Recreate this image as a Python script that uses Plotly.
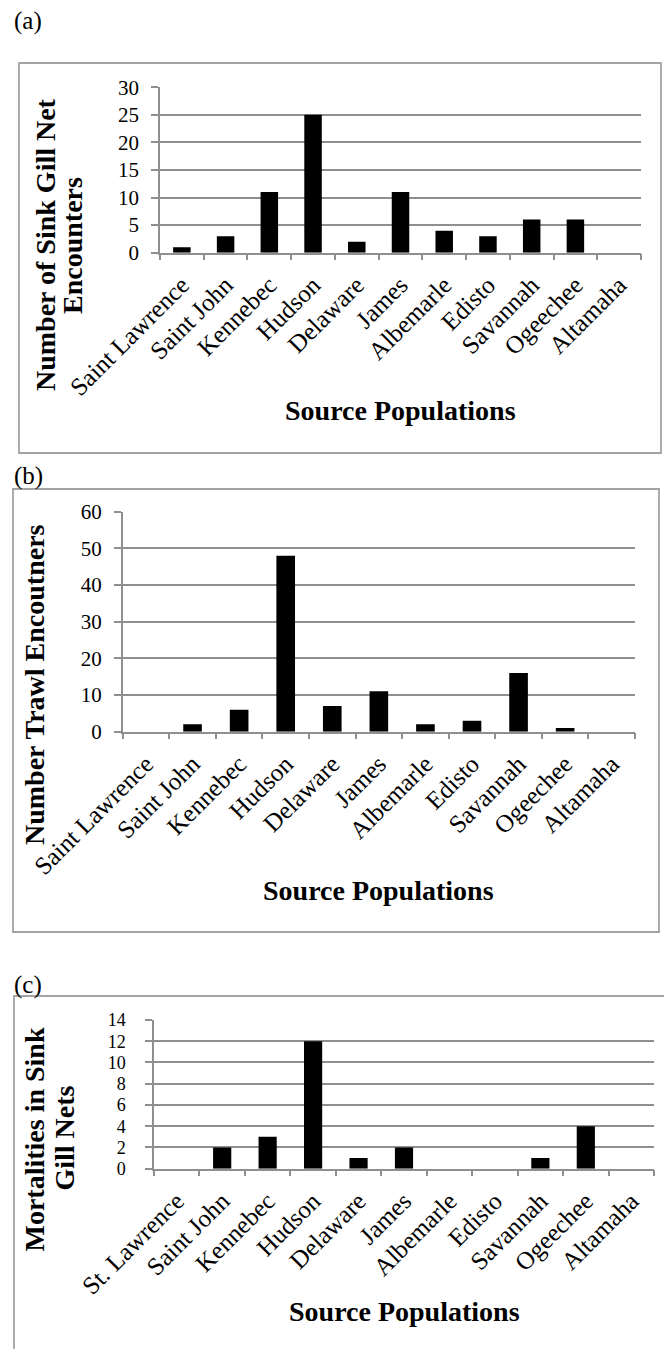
import plotly.graph_objects as go

W, H = 664, 1349

# Source populations (north to south)
populations = ["Saint Lawrence", "Saint John", "Kennebec", "Hudson", "Delaware",
               "James", "Albemarle", "Edisto", "Savannah", "Ogeechee", "Altamaha"]
populations_c = ["St. Lawrence"] + populations[1:]

gillnet_encounters = [1, 3, 11, 25, 2, 11, 4, 3, 6, 6, 0]
trawl_encounters = [0, 2, 6, 48, 7, 11, 2, 3, 16, 1, 0]
gillnet_mortalities = [0, 2, 3, 12, 1, 2, 0, 0, 1, 4, 0]

FONT = "Liberation Serif"
GRID = "#8f8f8f"
FRAME = "#a3a3a3"


def px(x):
    return x / W


def py(y):
    return 1 - y / H


# panel geometry in pixels: plot-area left, right, top, bottom
panels = [
    dict(cats=populations, vals=gillnet_encounters, box=(160, 641, 87.3, 252.7),
         ymax=30, dtick=5, ystand=8, ysize=21),
    dict(cats=populations, vals=trawl_encounters, box=(122.7, 635, 511.7, 731.7),
         ymax=60, dtick=10, ystand=8, ysize=21),
    dict(cats=populations_c, vals=gillnet_mortalities, box=(154, 654, 1020, 1168.7),
         ymax=14, dtick=2, ystand=16, ysize=18),
]

fig = go.Figure()
layout = dict(
    width=W, height=H, margin=dict(l=0, r=0, t=0, b=0, pad=0, autoexpand=False),
    paper_bgcolor="white", plot_bgcolor="white", showlegend=False,
    bargap=0.6, font=dict(family=FONT, color="black"),
)

for i, p in enumerate(panels, start=1):
    sfx = "" if i == 1 else str(i)
    x0, x1, y0, y1 = p["box"]
    fig.add_trace(go.Bar(x=p["cats"], y=p["vals"], marker=dict(color="black", line=dict(width=0)),
                         xaxis="x" + sfx, yaxis="y" + sfx, hoverinfo="skip"))
    layout["xaxis" + sfx] = dict(
        domain=[px(x0), px(x1)], anchor="y" + sfx, type="category",
        range=[-0.5, len(p["cats"]) - 0.5], tickangle=-45, automargin=False,
        tickfont=dict(family=FONT, size=25, color="black"), ticklabelstandoff=6,
        showline=True, linecolor=GRID, linewidth=1.5, showgrid=False, zeroline=False,
        ticks="outside", tickson="boundaries", ticklen=6, tickcolor=GRID, tickwidth=1.5,
    )
    layout["yaxis" + sfx] = dict(
        domain=[py(y1), py(y0)], anchor="x" + sfx, range=[0, p["ymax"]], dtick=p["dtick"],
        tickfont=dict(family=FONT, size=p["ysize"], color="black"), automargin=False,
        ticklabelstandoff=p["ystand"],
        showline=True, linecolor=GRID, linewidth=1.5, showgrid=True, gridcolor=GRID,
        gridwidth=1.5, zeroline=False, ticks="outside", ticklen=7, tickcolor=GRID,
        tickwidth=1.5,
    )

fig.update_layout(**layout)

# panel frames
frames = [(19, 63, 661, 453), (13, 489, 659, 932), (14, 996, 700, 1400)]
for fx0, fy0, fx1, fy1 in frames:
    fig.add_shape(type="rect", xref="paper", yref="paper",
                  x0=px(fx0), x1=px(fx1), y0=py(fy1), y1=py(fy0),
                  line=dict(color=FRAME, width=1.8), fillcolor="rgba(0,0,0,0)", layer="above")

notes = []
# panel letters
for txt, yy in [("(a)", 21), ("(b)", 476), ("(c)", 985)]:
    notes.append(dict(text=txt, x=px(12), y=py(yy), xanchor="left", yanchor="middle",
                      font=dict(size=25, family=FONT)))

title_font = dict(size=28, family=FONT, color="black")
# x-axis titles
for p, yy in zip(panels, [411, 890, 1311]):
    x0, x1, _, _ = p["box"]
    notes.append(dict(text="<b>Source Populations</b>", x=px((x0 + x1) / 2), y=py(yy),
                      xanchor="center", yanchor="middle", font=title_font))

# y-axis titles
for txt, xx, yy in [("Number of Sink Gill Net", 46, 245), ("Encounters", 72, 246),
                    ("Number Trawl Encoutners", 34, 685),
                    ("Mortalities in Sink", 34, 1139.5), ("Gill Nets", 63.5, 1138)]:
    notes.append(dict(text="<b>" + txt + "</b>", x=px(xx), y=py(yy), textangle=-90,
                      xanchor="center", yanchor="middle", font=title_font))

for n in notes:
    fig.add_annotation(xref="paper", yref="paper", showarrow=False, **n)

fig.write_html("out.html")
